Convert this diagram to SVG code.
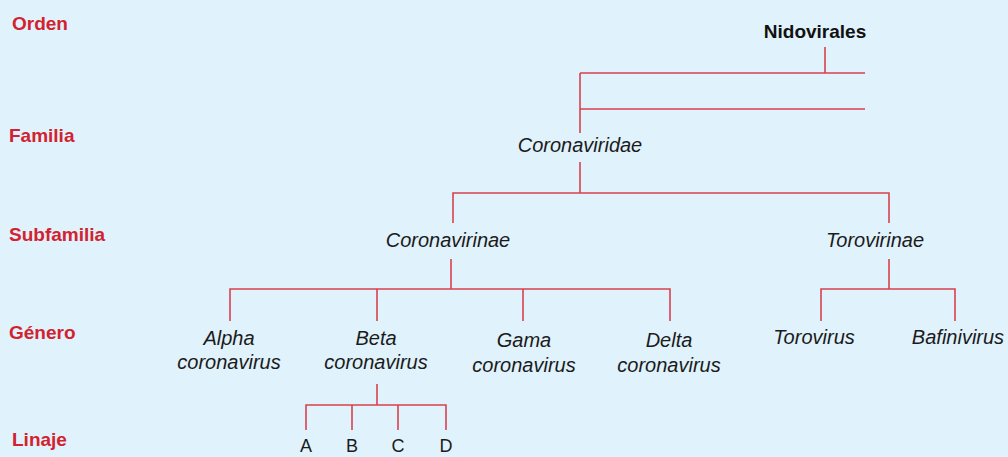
<svg xmlns="http://www.w3.org/2000/svg" width="1008" height="457" viewBox="0 0 1008 457">
  <style>
    .rank { font-family: "Liberation Sans", Arial, sans-serif; font-weight: bold; font-size: 19px; fill: #d3222f; }
    .taxon { font-family: "Liberation Sans", Arial, sans-serif; font-style: italic; font-size: 20px; fill: #1b1b1b; text-anchor: middle; }
    .order { font-family: "Liberation Sans", Arial, sans-serif; font-weight: bold; font-size: 19px; fill: #111; text-anchor: middle; }
    .lineage { font-family: "Liberation Sans", Arial, sans-serif; font-size: 18px; fill: #1b1b1b; text-anchor: middle; }
    .link { fill: none; stroke: #d9424f; stroke-width: 1.6; }
  </style>
  <rect x="0" y="0" width="1008" height="457" fill="#e0f2fc"/>

  <!-- rank labels down the left margin -->
  <g id="ranks">
    <text class="rank" x="12" y="30">Orden</text>
    <text class="rank" x="9" y="142">Familia</text>
    <text class="rank" x="9" y="241">Subfamilia</text>
    <text class="rank" x="9" y="339">Género</text>
    <text class="rank" x="12" y="446">Linaje</text>
  </g>

  <!-- tree branches -->
  <g id="connectors">
    <path class="link" d="M825 47 V73 M580 73 H865 M580 109 H865 M580 73 V133"/>
    <path class="link" d="M580 162 V193 M453 223 V193 H889 V223"/>
    <path class="link" d="M451 259 V289 M230 321 V289 H670 V321 M377 289 V321 M523 289 V321"/>
    <path class="link" d="M889 259 V289 M821 321 V289 H955 V321"/>
    <path class="link" d="M377 384 V405 M306 430 V405 H446 V430 M352 405 V430 M398 405 V430"/>
  </g>

  <g id="nidovirales"><text class="order" x="815" y="38">Nidovirales</text></g>
  <g id="coronaviridae"><text class="taxon" x="580" y="152">Coronaviridae</text></g>
  <g id="coronavirinae"><text class="taxon" x="448" y="247">Coronavirinae</text></g>
  <g id="torovirinae"><text class="taxon" x="875" y="247">Torovirinae</text></g>

  <g id="alphacoronavirus"><text class="taxon" x="229" y="345">Alpha</text><text class="taxon" x="229" y="369">coronavirus</text></g>
  <g id="betacoronavirus"><text class="taxon" x="376" y="345">Beta</text><text class="taxon" x="376" y="369">coronavirus</text></g>
  <g id="gamacoronavirus"><text class="taxon" x="524" y="347">Gama</text><text class="taxon" x="524" y="372">coronavirus</text></g>
  <g id="deltacoronavirus"><text class="taxon" x="669" y="347">Delta</text><text class="taxon" x="669" y="372">coronavirus</text></g>
  <g id="torovirus"><text class="taxon" x="814" y="344">Torovirus</text></g>
  <g id="bafinivirus"><text class="taxon" x="958" y="344">Bafinivirus</text></g>

  <g id="lineage-a"><text class="lineage" x="306" y="452">A</text></g>
  <g id="lineage-b"><text class="lineage" x="352" y="452">B</text></g>
  <g id="lineage-c"><text class="lineage" x="398" y="452">C</text></g>
  <g id="lineage-d"><text class="lineage" x="446" y="452">D</text></g>
</svg>
